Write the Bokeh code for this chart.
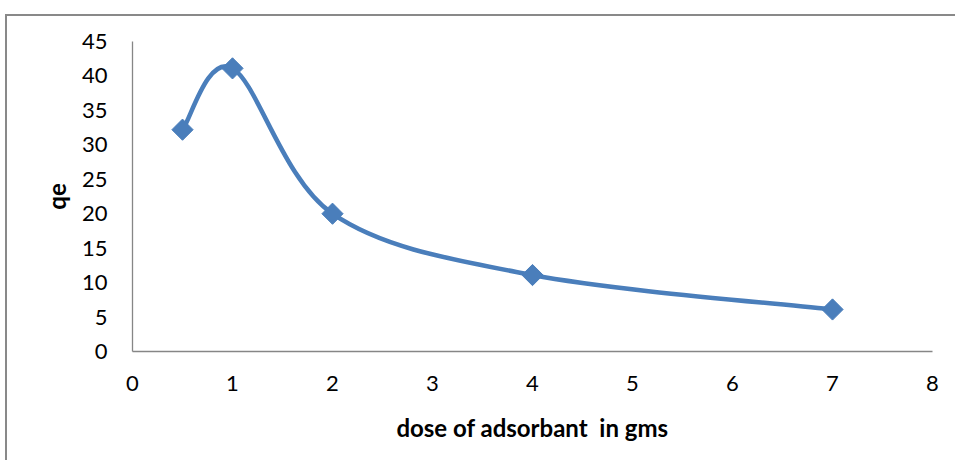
import math
from bokeh.plotting import figure
from bokeh.models import FixedTicker, Range1d
from bokeh.embed import file_html
from bokeh.resources import INLINE

# data
dose = [0.5, 1, 2, 4, 7]
qe = [32.2, 41.1, 20.0, 11.1, 6.1]
x_ticks = [0, 1, 2, 3, 4, 5, 6, 7, 8]
y_ticks = [0, 5, 10, 15, 20, 25, 30, 35, 40, 45]

COLOR = "#4a7ebb"
FONT = "Lato"

p = figure(width=950, height=446, output_backend="svg", toolbar_location=None,
           x_range=Range1d(0, 8), y_range=Range1d(0, 45),
           min_border_left=125, min_border_right=25, min_border_top=25, min_border_bottom=111)
p.margin = (4, 0, 0, 0)
p.styles = {"border-top": "2px solid #898989", "border-left": "2px solid #898989",
            "position": "relative", "top": "10px", "left": "5px"}
p.outline_line_color = None
p.grid.grid_line_color = None
p.background_fill_color = "white"
p.border_fill_color = "white"

# smooth (Catmull-Rom style) bezier segments computed from the data points
n = len(dose)
x0s, y0s, x1s, y1s, cx0, cy0, cx1, cy1 = [], [], [], [], [], [], [], []
for i in range(n - 1):
    pm = (dose[max(i - 1, 0)], qe[max(i - 1, 0)])
    p0 = (dose[i], qe[i])
    p1 = (dose[i + 1], qe[i + 1])
    p2 = (dose[min(i + 2, n - 1)], qe[min(i + 2, n - 1)])
    x0s.append(p0[0]); y0s.append(p0[1])
    x1s.append(p1[0]); y1s.append(p1[1])
    cx0.append(p0[0] + (p1[0] - pm[0]) / 6); cy0.append(p0[1] + (p1[1] - pm[1]) / 6)
    cx1.append(p1[0] - (p2[0] - p0[0]) / 6); cy1.append(p1[1] - (p2[1] - p0[1]) / 6)

p.bezier(x0=x0s, y0=y0s, x1=x1s, y1=y1s, cx0=cx0, cy0=cy0, cx1=cx1, cy1=cy1,
         line_color=COLOR, line_width=4.5, line_cap="round")
p.scatter(dose, qe, marker="square", angle=math.pi / 4, size=15,
          fill_color=COLOR, line_color=COLOR)

for ax in (p.xaxis[0], p.yaxis[0]):
    ax.axis_line_color = "#868686"
    ax.axis_line_width = 1.3
    ax.major_tick_line_color = None
    ax.minor_tick_line_color = None
    ax.major_label_text_font = FONT
    ax.major_label_text_font_size = "22px"
    ax.major_label_text_color = "black"
    ax.axis_label_text_font = FONT
    ax.axis_label_text_font_size = "24px"
    ax.axis_label_text_font_style = "bold"
    ax.axis_label_text_color = "black"

p.xaxis.ticker = FixedTicker(ticks=x_ticks)
p.yaxis.ticker = FixedTicker(ticks=y_ticks)
p.xaxis.major_label_standoff = 18
p.yaxis.major_label_standoff = 19
p.xaxis.axis_label = "dose of adsorbant\u00a0\u00a0in gms"
p.yaxis.axis_label = "qe"
p.xaxis.axis_label_standoff = 19
p.yaxis.axis_label_standoff = 8

open("out.html", "w").write(file_html(p, INLINE))
